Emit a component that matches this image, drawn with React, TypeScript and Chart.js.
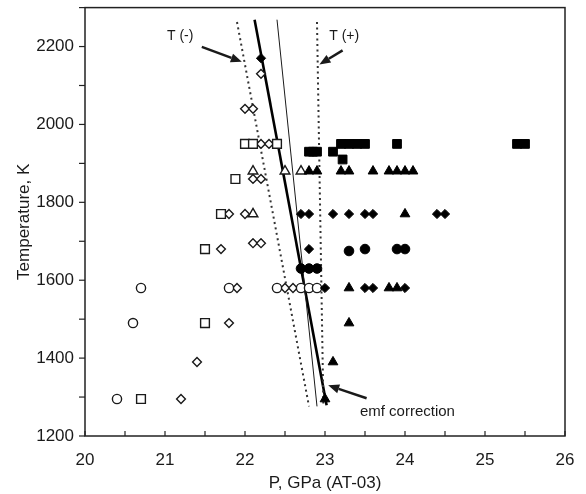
import React, { useEffect, useRef } from 'react';
import { Chart, registerables } from 'chart.js';
Chart.register(...registerables);

// Pressure (GPa) and temperature (K) for each marker type
const openCircleP = [20.4, 20.6, 20.7, 21.8, 22.4, 22.7, 22.8, 22.9];
const openCircleT = [1295, 1490, 1580, 1580, 1580, 1580, 1580, 1580];

const openSquareP = [20.7, 21.5, 21.5, 21.7, 21.88, 22.0, 22.1, 22.4];
const openSquareT = [1295, 1490, 1680, 1770, 1860, 1950, 1950, 1950];

const openDiamondP = [21.2, 21.4, 21.8, 21.9, 22.5, 22.6, 21.7, 22.1, 22.2, 21.8, 22.0, 22.1, 22.2, 22.2, 22.3, 22.0, 22.1, 22.2];
const openDiamondT = [1295, 1390, 1490, 1580, 1580, 1580, 1680, 1695, 1695, 1770, 1770, 1860, 1860, 1950, 1950, 2040, 2040, 2130];

const openTriangleP = [22.1, 22.1, 22.5, 22.7];
const openTriangleT = [1770, 1880, 1880, 1880];

const filledCircleP = [22.7, 22.8, 22.9, 23.3, 23.5, 23.9, 24.0];
const filledCircleT = [1630, 1630, 1630, 1675, 1680, 1680, 1680];

const filledSquareP = [22.8, 22.85, 22.9, 23.1, 23.22, 23.2, 23.3, 23.4, 23.5, 23.9, 25.4, 25.5];
const filledSquareT = [1930, 1930, 1930, 1930, 1910, 1950, 1950, 1950, 1950, 1950, 1950, 1950];

const filledDiamondP = [22.2, 22.7, 22.8, 23.1, 23.3, 23.5, 23.6, 24.4, 24.5, 22.8, 23.0, 23.5, 23.6, 24.0];
const filledDiamondT = [2170, 1770, 1770, 1770, 1770, 1770, 1770, 1770, 1770, 1680, 1580, 1580, 1580, 1580];

const filledTriangleP = [22.8, 22.9, 23.2, 23.3, 23.6, 23.8, 23.9, 24.0, 24.1, 24.0, 23.3, 23.8, 23.9, 23.3, 23.1, 23.0];
const filledTriangleT = [1880, 1880, 1880, 1880, 1880, 1880, 1880, 1880, 1880, 1770, 1580, 1580, 1580, 1490, 1390, 1295];

// Fitted / bounding lines (endpoints)
const thickLineP = [22.12, 23.02];
const thickLineT = [2269, 1279];
const thinLineP = [22.4, 22.9];
const thinLineT = [2269, 1276];
const lowerBoundP = [21.9, 22.8];
const lowerBoundT = [2263, 1276];
const upperBoundP = [22.9, 22.98];
const upperBoundT = [2263, 1276];

// Annotations: label position and arrow (data coordinates)
const annotationTexts = ['T (-)', 'T (+)', 'emf correction'];
const annotationTextP = [21.19, 23.24, 24.03];
const annotationTextT = [2228, 2228, 1261];
const arrowFromP = [21.46, 23.22, 23.52];
const arrowFromT = [2199, 2190, 1297];
const arrowToP = [21.96, 22.93, 23.04];
const arrowToT = [2161, 2154, 1330];

const FONT = '"Liberation Sans", Arial, sans-serif';
const INK = '#1a1a1a';

const pts = (px: number[], ty: number[]) => px.map((p, i) => ({ x: p, y: ty[i] }));

const framePlugin = {
  id: 'frameAndNotes',
  afterDatasetsDraw(chart: any) {
    const { ctx, chartArea: a, scales } = chart;
    const xs = scales.x, ys = scales.y;
    ctx.save();
    ctx.strokeStyle = '#222';
    ctx.lineWidth = 1.5;
    ctx.strokeRect(a.left, a.top, a.right - a.left, a.bottom - a.top);
    ctx.lineWidth = 1.2;
    for (let v = 20; v <= 26.001; v += 0.5) {
      const px = xs.getPixelForValue(v);
      ctx.beginPath();
      ctx.moveTo(px, a.bottom);
      ctx.lineTo(px, a.bottom - 5);
      ctx.stroke();
    }
    for (let v = 1200; v <= 2300; v += 100) {
      const py = ys.getPixelForValue(v);
      ctx.beginPath();
      ctx.moveTo(a.left - 6, py);
      ctx.lineTo(a.left, py);
      ctx.stroke();
    }
    // annotations
    ctx.fillStyle = INK;
    ctx.strokeStyle = INK;
    for (let i = 0; i < annotationTexts.length; i++) {
      const fx = xs.getPixelForValue(arrowFromP[i]);
      const fy = ys.getPixelForValue(arrowFromT[i]);
      const tx = xs.getPixelForValue(arrowToP[i]);
      const ty = ys.getPixelForValue(arrowToT[i]);
      const ang = Math.atan2(ty - fy, tx - fx);
      const hl = 11, hw = 4.5;
      const bx = tx - Math.cos(ang) * hl, by = ty - Math.sin(ang) * hl;
      ctx.lineWidth = 2.5;
      ctx.beginPath();
      ctx.moveTo(fx, fy);
      ctx.lineTo(bx, by);
      ctx.stroke();
      ctx.beginPath();
      ctx.moveTo(tx, ty);
      ctx.lineTo(bx - Math.sin(ang) * hw, by + Math.cos(ang) * hw);
      ctx.lineTo(bx + Math.sin(ang) * hw, by - Math.cos(ang) * hw);
      ctx.closePath();
      ctx.fill();
      ctx.font = (i === 2 ? '15px ' : '14px ') + FONT;
      ctx.textAlign = 'center';
      ctx.textBaseline = 'middle';
      ctx.fillText(annotationTexts[i], xs.getPixelForValue(annotationTextP[i]), ys.getPixelForValue(annotationTextT[i]));
    }
    ctx.restore();
  },
};

export default function App() {
  const ref = useRef<HTMLCanvasElement>(null);
  useEffect(() => {
    document.body.style.margin = '0';
    const open = { backgroundColor: '#ffffff', borderColor: INK, borderWidth: 1.4 };
    const filled = { backgroundColor: '#000000', borderColor: '#000000', borderWidth: 1 };
    const lineDs = (p: number[], t: number[], width: number, dash: number[] | undefined, color: string) => ({
      data: pts(p, t),
      showLine: true,
      borderColor: color,
      borderWidth: width,
      borderDash: dash,
      pointRadius: 0,
      order: 5,
    });
    const chart = new Chart(ref.current!, {
      type: 'scatter',
      data: {
        datasets: [
          lineDs(lowerBoundP, lowerBoundT, 2, [2, 3.5], '#333'),
          lineDs(upperBoundP, upperBoundT, 2, [2, 3.5], '#333'),
          lineDs(thinLineP, thinLineT, 1, undefined, INK),
          lineDs(thickLineP, thickLineT, 2.6, undefined, '#000'),
          { data: pts(openCircleP, openCircleT), pointStyle: 'circle', pointRadius: 4.6, ...open, order: 1 },
          { data: pts(openSquareP, openSquareT), pointStyle: 'rect', pointRadius: 6.2, ...open, order: 1 },
          { data: pts(openDiamondP, openDiamondT), pointStyle: 'rectRot', pointRadius: 4.4, ...open, order: 1 },
          { data: pts(openTriangleP, openTriangleT), pointStyle: 'triangle', pointRadius: 5.6, ...open, order: 1 },
          { data: pts(filledCircleP, filledCircleT), pointStyle: 'circle', pointRadius: 4.8, ...filled, order: 0 },
          { data: pts(filledSquareP, filledSquareT), pointStyle: 'rect', pointRadius: 6.2, ...filled, order: 0 },
          { data: pts(filledDiamondP, filledDiamondT), pointStyle: 'rectRot', pointRadius: 4.6, ...filled, order: 0 },
          { data: pts(filledTriangleP, filledTriangleT), pointStyle: 'triangle', pointRadius: 5.6, ...filled, order: 0 },
        ] as any,
      },
      options: {
        animation: false,
        responsive: false,
        layout: { padding: { top: 5, right: 21, left: 0, bottom: 0 } },
        plugins: { legend: { display: false }, tooltip: { enabled: false } },
        scales: {
          x: {
            type: 'linear',
            min: 20,
            max: 26,
            grid: { display: false, drawTicks: false },
            border: { display: false },
            ticks: {
              stepSize: 0.5,
              autoSkip: false,
              maxRotation: 0,
              padding: 14,
              color: INK,
              font: { family: FONT, size: 17 },
              callback: (v: any) => (Number.isInteger(Number(v)) ? String(v) : ''),
            },
            title: { display: true, text: 'P, GPa (AT-03)', color: INK, font: { family: FONT, size: 17 }, padding: { top: 0, bottom: 0 } },
            afterFit: (s: any) => { s.height = 58; s.paddingLeft = 0; s.paddingRight = 0; },
          },
          y: {
            type: 'linear',
            min: 1200,
            max: 2300,
            grid: { display: false, drawTicks: false },
            border: { display: false },
            ticks: {
              stepSize: 100,
              autoSkip: false,
              padding: 11,
              color: INK,
              font: { family: FONT, size: 17 },
              callback: (v: any) => (Number(v) % 200 === 0 ? String(v) : ''),
            },
            title: { display: true, text: 'Temperature, K', color: INK, font: { family: FONT, size: 17 }, padding: { top: 14, bottom: 0 } },
            afterFit: (s: any) => { s.width = 85; s.paddingTop = 0; s.paddingBottom = 0; },
          },
        },
      } as any,
      plugins: [framePlugin],
    });
    return () => chart.destroy();
  }, []);
  return <canvas ref={ref} width={586} height={494} style={{ display: 'block', width: 586, height: 494 }} />;
}
